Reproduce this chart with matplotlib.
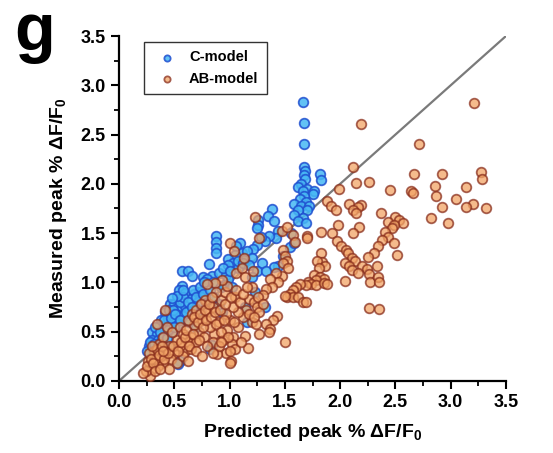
import matplotlib
matplotlib.use('Agg')
import matplotlib.pyplot as plt
from matplotlib.ticker import MultipleLocator

# C-model points (predicted, measured)
c_x = [1.66, 1.67, 1.67, 1.67, 1.68, 1.67, 1.68, 1.82, 1.83, 1.65, 1.62, 1.70, 1.66,
       1.76, 1.75, 1.67, 1.64, 1.69, 1.58, 1.65, 1.72, 1.70, 1.62, 1.58, 1.66, 1.62, 1.69,
       1.38, 1.35, 1.40, 1.26, 1.26, 1.25, 1.44, 1.42, 1.36, 1.32, 1.28, 1.25, 1.21,
       1.56, 1.55, 1.58, 0.88, 0.88, 0.88, 0.88, 1.09, 1.06, 1.11, 1.16, 1.05, 0.99, 1.03,
       1.13, 1.20, 1.29, 1.25, 1.44, 1.40, 1.33, 0.57, 0.62, 0.81, 0.66, 0.76, 0.84, 0.80,
       0.90, 0.97, 0.99, 0.95, 1.02, 0.57, 0.54, 0.60, 0.68, 0.72, 0.74, 0.65, 0.71, 0.79,
       0.46, 0.50, 0.52, 0.56, 0.60, 0.63, 0.69, 0.74, 0.42, 0.48, 0.53, 0.58, 0.38, 0.44,
       0.50, 0.36, 0.40, 0.46, 0.53, 0.30, 0.34, 0.42, 0.48, 0.30, 0.35, 0.27, 0.25, 0.45,
       0.55, 0.53, 0.84, 0.82, 0.93, 0.90, 1.16, 1.14, 1.23, 1.32, 1.20, 0.63, 0.70, 1.08,
       0.99, 1.48,
       0.28, 0.32, 0.33, 0.37, 0.39, 0.41, 0.44, 0.45, 0.47, 0.49, 0.51, 0.55, 0.55, 0.58,
       0.61, 0.62, 0.66, 0.67, 0.70, 0.73, 0.76, 0.77, 0.82, 0.85, 0.86, 0.92, 0.94, 1.00,
       1.08, 1.12, 1.18, 0.50, 0.43, 0.35, 0.52, 0.58, 0.48]
c_y = [2.83, 2.62, 2.40, 2.17, 2.13, 2.09, 2.05, 2.10, 2.04, 2.00, 1.97, 1.95, 1.93,
       1.93, 1.90, 1.88, 1.85, 1.82, 1.80, 1.78, 1.78, 1.73, 1.73, 1.68, 1.65, 1.62, 1.60,
       1.74, 1.67, 1.62, 1.63, 1.58, 1.55, 1.52, 1.45, 1.47, 1.42, 1.46, 1.38, 1.34,
       1.50, 1.36, 1.40, 1.47, 1.41, 1.35, 1.30, 1.40, 1.37, 1.30, 1.32, 1.28, 1.24, 1.20,
       1.23, 1.25, 1.20, 1.12, 1.17, 1.16, 1.12, 1.12, 1.12, 1.19, 1.06, 1.05, 1.06, 1.03,
       1.10, 1.08, 1.03, 0.97, 0.95, 0.96, 0.92, 0.89, 0.88, 0.90, 0.85, 0.83, 0.80, 0.79,
       0.78, 0.78, 0.74, 0.74, 0.76, 0.72, 0.74, 0.70, 0.70, 0.68, 0.67, 0.66, 0.62, 0.64,
       0.61, 0.56, 0.55, 0.57, 0.58, 0.50, 0.48, 0.49, 0.50, 0.42, 0.42, 0.35, 0.30, 0.35,
       0.20, 0.17, 0.36, 0.32, 0.70, 0.78, 0.60, 0.75, 0.90, 0.75, 1.05, 0.60, 0.55, 1.15,
       1.18, 1.27,
       0.40, 0.38, 0.55, 0.50, 0.44, 0.62, 0.52, 0.72, 0.64, 0.72, 0.68, 0.62, 0.80, 0.85,
       0.70, 0.80, 0.75, 0.92, 0.85, 0.95, 0.88, 1.00, 0.92, 1.00, 0.85, 0.95, 1.15, 1.12,
       1.22, 1.20, 1.18, 0.55, 0.44, 0.35, 0.86, 0.92, 0.84]

# AB-model points
ab_x = [3.21, 2.19, 2.71, 2.12, 3.27, 3.28, 2.67, 2.92, 2.26, 2.14, 2.86, 1.99, 2.45,
        2.64, 2.66, 3.14, 2.87, 3.05, 1.88, 1.92, 2.08, 2.19, 2.16, 3.20, 3.14, 2.92, 3.32,
        1.96, 2.12, 2.14, 2.37, 2.50, 2.53, 2.43, 2.82, 2.98, 2.57, 2.49, 2.47, 1.98, 2.17,
        1.83, 2.41, 2.12, 1.93, 2.43, 2.38, 1.97, 1.70, 1.70, 2.49, 2.34, 2.01, 2.05, 2.07,
        2.31, 1.83, 2.11, 2.13, 2.51, 2.25, 1.84, 1.79, 1.86, 1.81, 2.04, 2.08, 2.11, 2.20,
        2.24, 2.16, 2.26, 2.33, 1.76, 2.04, 1.82, 1.85, 1.78, 1.71, 1.74, 1.78, 1.85, 1.88,
        2.27, 2.34, 2.35, 1.69, 1.64, 1.60, 1.57, 1.55, 1.52, 1.57, 1.62, 1.50, 1.66, 1.69,
        2.26, 2.35, 1.47, 1.48, 1.50, 1.52, 1.48, 1.47, 1.52, 1.57, 1.59, 1.53, 1.42, 1.44,
        1.37, 1.38, 1.33, 1.30, 1.43, 1.39, 1.33, 1.37, 1.36, 1.27, 1.50, 1.23, 1.27, 1.13,
        1.00, 1.04, 1.06, 1.11, 1.14, 1.21, 1.20, 1.18, 1.22, 1.25, 1.27, 1.15, 1.12, 1.20,
        1.24, 1.08, 1.14, 1.17, 1.03, 1.02, 0.97, 1.01, 1.00, 0.89, 0.94, 0.98, 0.90, 0.86,
        0.82, 0.80, 0.85, 0.92, 0.96, 0.98, 1.05, 0.93, 0.87, 0.78, 0.75, 0.72, 0.68, 0.65,
        0.62, 0.60, 0.55, 0.52, 0.50, 0.47, 0.45, 0.42, 0.40, 0.38, 0.35, 0.32, 0.30, 0.28,
        0.26, 0.24, 0.22, 0.33, 0.36, 0.40, 0.43, 0.48, 0.55, 0.58, 0.62, 0.66, 0.70, 0.74,
        0.45, 0.52, 0.58, 0.65, 0.70, 0.77, 0.85, 0.90, 1.05, 1.10, 1.00, 1.08, 1.03, 0.97,
        0.42, 0.34, 0.80, 0.88,
        0.25, 0.27, 0.29, 0.31, 0.33, 0.34, 0.36, 0.37, 0.39, 0.41, 0.44, 0.49,
        0.53, 0.56, 0.60, 0.61, 0.63, 0.67, 0.68, 0.71, 0.72, 0.73,
        0.76, 0.78, 0.79, 0.81, 0.83, 0.84, 0.87, 0.88, 0.91, 0.92, 0.95, 0.96, 0.99, 1.01,
        1.04, 1.06, 1.09, 1.12, 1.16, 1.18, 1.22, 1.26, 1.30, 0.30, 0.40,
        0.62, 0.70, 0.80, 0.75, 0.92, 1.00, 0.85]
ab_y = [2.82, 2.61, 2.40, 2.17, 2.12, 2.05, 2.10, 2.10, 2.02, 2.01, 1.98, 1.95, 1.94,
        1.93, 1.91, 1.97, 1.88, 1.85, 1.83, 1.78, 1.80, 1.79, 1.77, 1.80, 1.77, 1.77, 1.75,
        1.73, 1.73, 1.70, 1.70, 1.66, 1.63, 1.61, 1.65, 1.60, 1.60, 1.58, 1.55, 1.58, 1.56,
        1.51, 1.51, 1.50, 1.50, 1.46, 1.43, 1.42, 1.47, 1.45, 1.40, 1.37, 1.37, 1.33, 1.30,
        1.30, 1.30, 1.25, 1.22, 1.28, 1.26, 1.21, 1.22, 1.17, 1.15, 1.20, 1.17, 1.13, 1.17,
        1.14, 1.10, 1.09, 1.17, 1.08, 1.01, 1.05, 1.03, 1.02, 1.00, 0.98, 0.97, 0.99, 0.98,
        1.00, 1.05, 1.00, 0.97, 0.98, 0.95, 0.92, 0.88, 0.85, 0.85, 0.85, 0.86, 0.80, 0.80,
        0.74, 0.73, 1.06, 1.33, 1.27, 1.22, 1.20, 1.52, 1.56, 1.48, 1.41, 1.15, 1.10, 1.00,
        1.03, 0.95, 0.93, 0.87, 0.66, 0.62, 0.58, 0.53, 0.50, 0.48, 0.40, 1.66, 1.45, 1.25,
        1.40, 1.32, 1.10, 1.15, 1.05, 1.12, 0.95, 0.83, 0.80, 0.75, 0.70, 0.72, 0.65, 0.60,
        0.58, 0.55, 0.46, 0.33, 0.45, 0.38, 0.28, 0.20, 0.18, 0.27, 0.42, 0.52, 0.60, 0.48,
        0.55, 0.70, 0.75, 0.82, 0.90, 0.96, 0.85, 1.02, 0.99, 0.82, 0.62, 0.50, 0.57, 0.45,
        0.40, 0.30, 0.35, 0.42, 0.28, 0.22, 0.35, 0.30, 0.18, 0.25, 0.15, 0.30, 0.12, 0.05,
        0.20, 0.10, 0.08, 0.22, 0.38, 0.45, 0.55, 0.50, 0.55, 0.48, 0.62, 0.68, 0.72, 0.78,
        0.12, 0.18, 0.25, 0.32, 0.40, 0.45, 0.40, 0.35, 0.32, 0.40, 0.62, 0.70, 0.75, 0.68,
        0.72, 0.58, 0.98, 0.90,
        0.15, 0.28, 0.22, 0.18, 0.10, 0.32, 0.26, 0.12, 0.35, 0.22, 0.28, 0.35,
        0.30, 0.40, 0.45, 0.52, 0.35, 0.48, 0.65, 0.60, 0.42, 0.68,
        0.55, 0.72, 0.62, 0.78, 0.65, 0.85, 0.70, 0.58, 0.72, 0.50, 0.62, 0.78, 0.45, 0.85,
        0.60, 0.92, 0.80, 0.88, 0.95, 0.68, 0.65, 0.85, 0.78, 0.35, 0.30,
        0.20, 0.30, 0.35, 0.25, 0.40, 0.30, 0.28]

plt.rcParams['font.family'] = ['Liberation Sans', 'DejaVu Sans']
plt.rcParams['font.weight'] = 'bold'
plt.rcParams['mathtext.fontset'] = 'custom'
plt.rcParams['mathtext.rm'] = 'Liberation Sans:bold'
plt.rcParams['mathtext.bf'] = 'Liberation Sans:bold'
plt.rcParams['mathtext.default'] = 'bf'

fig = plt.figure(figsize=(5.53, 4.53), dpi=100)
ax = fig.add_axes([0.2152, 0.159, 0.6998, 0.7615])

ax.plot([0, 3.5], [0, 3.5], color='#7a7a7a', lw=1.6, zorder=1)
ax.scatter(c_x, c_y, s=48, facecolor='#46b8f4', edgecolor='#1f4fd0', lw=1.3,
           alpha=0.85, label='C-model', zorder=2)
ax.scatter(ab_x, ab_y, s=48, facecolor='#f2a466', edgecolor='#8a2e1c', lw=1.3,
           alpha=0.75, label='AB-model', zorder=3)

ax.set_xlim(0, 3.5)
ax.set_ylim(0, 3.5)
ax.xaxis.set_major_locator(MultipleLocator(0.5))
ax.yaxis.set_major_locator(MultipleLocator(0.5))
ax.xaxis.set_minor_locator(MultipleLocator(0.25))
ax.yaxis.set_minor_locator(MultipleLocator(0.25))
ax.xaxis.set_major_formatter(lambda v, p: f'{v:.1f}')
ax.yaxis.set_major_formatter(lambda v, p: f'{v:.1f}')
ax.tick_params(which='major', length=6, width=1.5, labelsize=13, direction='out')
ax.tick_params(which='minor', length=3.5, width=1.3, direction='out')
for s in ['top', 'right']:
    ax.spines[s].set_visible(False)
for s in ['left', 'bottom']:
    ax.spines[s].set_linewidth(1.6)

ax.set_xlabel('Predicted peak % ΔF/F$_0$', fontsize=14, fontweight='bold', labelpad=8)
ax.set_ylabel('Measured peak % ΔF/F$_0$', fontsize=14, fontweight='bold', labelpad=8)

leg = ax.legend(loc='upper left', bbox_to_anchor=(0.045, 1.005), fontsize=10.5,
                handletextpad=0.5, borderpad=0.6, markerscale=0.65, fancybox=False,
                edgecolor='#333333', framealpha=1)
leg.get_frame().set_linewidth(1.0)

fig.text(0.025, 0.995, 'g', fontsize=48, fontweight='bold', va='top', ha='left')

fig.savefig('out.png', dpi=100)
